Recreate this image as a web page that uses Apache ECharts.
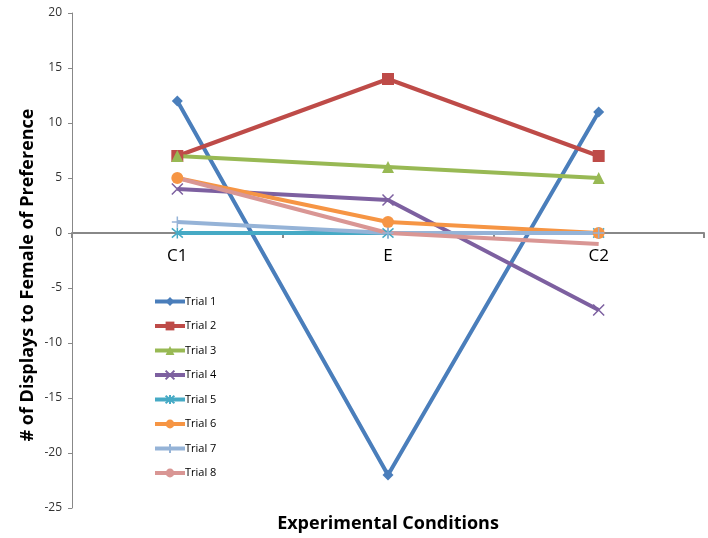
<!DOCTYPE html>
<html>
<head>
<meta charset="utf-8">
<script src="https://cdn.jsdelivr.net/npm/echarts@6/dist/echarts.min.js"></script>
<style>html,body{margin:0;padding:0;background:#fff}#c{width:708px;height:538px}</style>
</head>
<body>
<div id="c"></div>
<script>
const categories = ['C1', 'E', 'C2'];
const trialNames = ['Trial 1','Trial 2','Trial 3','Trial 4','Trial 5','Trial 6','Trial 7','Trial 8'];
const trial1 = [12, -22, 11];
const trial2 = [7, 14, 7];
const trial3 = [7, 6, 5];
const trial4 = [4, 3, -7];
const trial5 = [0, 0, 0];
const trial6 = [5, 1, 0];
const trial7 = [1, 0, 0];
const trial8 = [5, 0, -1];
const yTicks = { min: -25, max: 20, interval: 5 };

const allData = [trial1, trial2, trial3, trial4, trial5, trial6, trial7, trial8];
const colors = ['#4a7ebb','#be4b48','#98b954','#7d60a0','#46aac5','#f69544','#95b3d7','#d99694'];
const symbols = [
  'diamond', 'rect', 'triangle',
  'path://M0,0L10,10M10,0L0,10',
  'path://M0,0L10,10M10,0L0,10M5,-1L5,11',
  'circle',
  'path://M5,0L5,10M0,5L10,5',
  'none'
];
const sizes = [11, 12, 12, 11, 11, 12, 11, 0];
const stroked = [false,false,false,true,true,false,true,false];

const series = allData.map((d, i) => ({
  name: trialNames[i],
  type: 'line',
  data: d,
  symbol: symbols[i],
  symbolSize: sizes[i],
  showAllSymbol: true,
  lineStyle: { width: 4, color: colors[i] },
  itemStyle: stroked[i]
    ? { color: colors[i], borderColor: colors[i], borderWidth: 1.5 }
    : { color: colors[i] },
  emphasis: { disabled: true },
  animation: false
}));

const gridTop = 13, gridBottom = 30, H = 538;
const plotH = H - gridTop - gridBottom;
const zeroOffset = -plotH * (0 - yTicks.min) / (yTicks.max - yTicks.min);

const chart = echarts.init(document.getElementById('c'), null, { renderer: 'canvas' });
chart.setOption({
  animation: false,
  color: colors,
  grid: { left: 72, right: 4, top: gridTop, bottom: gridBottom, containLabel: false },
  legend: {
    orient: 'vertical',
    left: 148,
    top: 291,
    itemWidth: 30,
    itemHeight: 11,
    itemGap: 13.5,
    lineStyle: { width: 4 },
    textStyle: { fontSize: 11, color: '#000', fontFamily: 'Open Sans', padding: [0,0,0,-5] },
    data: trialNames
  },
  xAxis: {
    type: 'category',
    data: categories,
    boundaryGap: true,
    position: 'bottom',
    offset: zeroOffset,
    axisLine: { onZero: false, lineStyle: { color: '#888', width: 2 } },
    axisTick: { show: true, length: 5, lineStyle: { color: '#888', width: 2 } },
    axisLabel: { fontSize: 17, color: '#000', margin: 15, fontFamily: 'Open Sans' },
    splitLine: { show: false },
    z: 1
  },
  yAxis: {
    type: 'value',
    min: yTicks.min,
    max: yTicks.max,
    interval: yTicks.interval,
    axisLine: { show: true, lineStyle: { color: '#888', width: 1 } },
    axisTick: { show: true, length: 4, lineStyle: { color: '#888' } },
    axisLabel: { fontSize: 12, color: '#333', margin: 10, fontFamily: 'Open Sans' },
    splitLine: { show: false }
  },
  graphic: [
    {
      type: 'text',
      x: 28, y: 275,
      rotation: Math.PI / 2,
      style: {
        text: '# of Displays to Female of Preference',
        font: 'bold 18px "Open Sans"',
        fill: '#000',
        align: 'center',
        verticalAlign: 'middle'
      }
    },
    {
      type: 'text',
      x: 388, y: 524,
      style: {
        text: 'Experimental Conditions',
        font: 'bold 18px "Open Sans"',
        fill: '#000',
        align: 'center',
        verticalAlign: 'middle'
      }
    }
  ],
  series: series
});
</script>
</body>
</html>
